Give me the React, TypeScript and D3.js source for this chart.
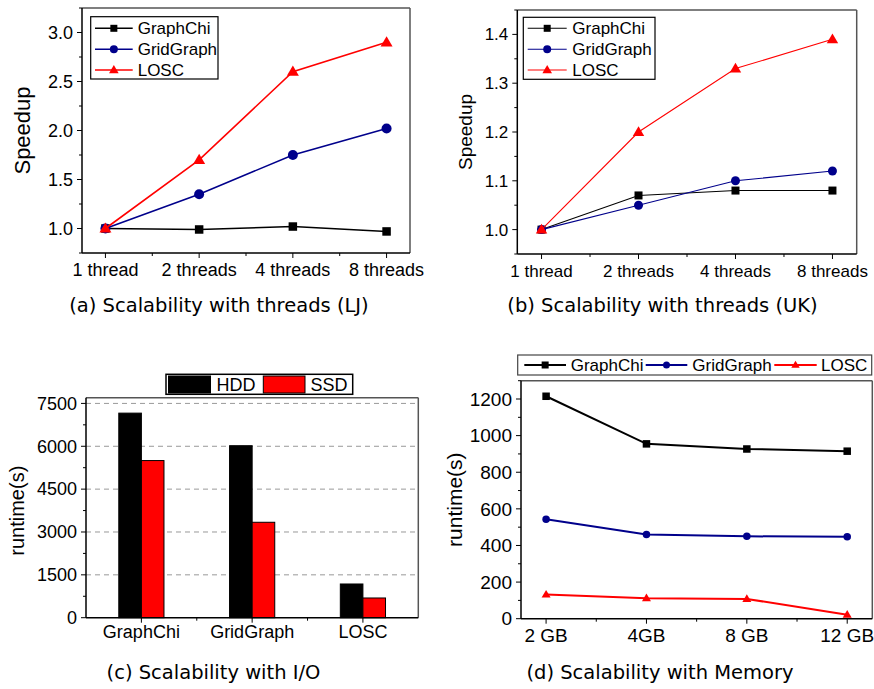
import React from 'react';
import * as d3 from 'd3';

const threadCats = ['1 thread', '2 threads', '4 threads', '8 threads'];
const ljGraphChi = [1.0, 0.99, 1.02, 0.97];
const ljGridGraph = [1.0, 1.35, 1.75, 2.02];
const ljLOSC = [1.0, 1.7, 2.6, 2.9];
const ljTicks = [1.0, 1.5, 2.0, 2.5, 3.0];

const ukGraphChi = [1.0, 1.07, 1.08, 1.08];
const ukGridGraph = [1.0, 1.05, 1.1, 1.12];
const ukLOSC = [1.0, 1.2, 1.33, 1.39];
const ukTicks = [1.0, 1.1, 1.2, 1.3, 1.4];

const ioCats = ['GraphChi', 'GridGraph', 'LOSC'];
const ioHDD = [7160, 6020, 1180];
const ioSSD = [5500, 3340, 690];
const ioTicks = [0, 1500, 3000, 4500, 6000, 7500];

const memCats = ['2 GB', '4GB', '8 GB', '12 GB'];
const memGraphChi = [1215, 955, 927, 915];
const memGridGraph = [543, 460, 450, 448];
const memLOSC = [132, 112, 108, 22];
const memTicks = [0, 200, 400, 600, 800, 1000, 1200];

const seriesNames = ['GraphChi', 'GridGraph', 'LOSC'];
const seriesColors = ['#000000', '#00008b', '#ff0000'];
const seriesShapes = ['square', 'circle', 'triangle'];

const FONT = '"Liberation Sans", Arial, Helvetica, sans-serif';
const CAP = '"DejaVu Sans", sans-serif';

type MarkerProps = { shape: string; x: number; y: number; s: number; color: string };
function Marker({ shape, x, y, s, color }: MarkerProps) {
  if (shape === 'square') {
    return <rect x={x - s / 2} y={y - s / 2} width={s} height={s} fill={color} />;
  }
  if (shape === 'circle') {
    return <circle cx={x} cy={y} r={s / 2} fill={color} />;
  }
  const w = s * 1.2;
  const h = w * 0.85;
  const p = `M${x},${y - h * 0.6}L${x + w / 2},${y + h * 0.4}L${x - w / 2},${y + h * 0.4}Z`;
  return <path d={p} fill={color} />;
}

type LinePanelProps = {
  cats: string[];
  data: number[][];
  xr: [number, number];
  yr: [number, number];
  yDomain: [number, number];
  ticks: number[];
  minorStep: number;
  fmt: (v: number) => string;
  tickFont: number;
  xTickFont: number;
  lineW: number;
  sizes: number[];
  ylabel: string;
  ylabelX: number;
  ylabelFont: number;
};

function LinePanel(p: LinePanelProps) {
  const x = d3.scaleLinear().domain([0.75, p.cats.length + 0.25]).range(p.xr);
  const y = d3.scaleLinear().domain(p.yDomain).range(p.yr);
  const line = d3.line<number>().x((_, i) => x(i + 1)).y((d) => y(d));
  const [xl, xrr] = p.xr;
  const [yb, yt] = p.yr;
  const minors: number[] = [];
  const nMin = Math.round((p.yDomain[1] - p.yDomain[0]) / p.minorStep);
  for (let i = 0; i <= nMin; i++) {
    const v = p.yDomain[0] + i * p.minorStep;
    if (!p.ticks.some((t) => Math.abs(t - v) < 1e-9)) minors.push(v);
  }
  return (
    <g>
      <line x1={xl} y1={yt} x2={xrr} y2={yt} stroke="#555" strokeWidth={1.5} />
      <line x1={xrr} y1={yt} x2={xrr} y2={yb} stroke="#555" strokeWidth={1.5} />
      <line x1={xl} y1={yt} x2={xl} y2={yb} stroke="#000" strokeWidth={1.5} />
      <line x1={xl} y1={yb} x2={xrr} y2={yb} stroke="#000" strokeWidth={1.5} />
      {p.ticks.map((t) => (
        <g key={'t' + t}>
          <line x1={xl - 5} x2={xl} y1={y(t)} y2={y(t)} stroke="#000" strokeWidth={1} />
          <text x={xl - 9} y={y(t)} dy="0.35em" textAnchor="end" fontFamily={FONT} fontSize={p.tickFont}>
            {p.fmt(t)}
          </text>
        </g>
      ))}
      {minors.map((t) => (
        <line key={'m' + t} x1={xl - 3} x2={xl} y1={y(t)} y2={y(t)} stroke="#000" strokeWidth={1} />
      ))}
      {p.cats.map((c, i) => (
        <g key={c}>
          <line x1={x(i + 1)} x2={x(i + 1)} y1={yb} y2={yb + 5} stroke="#000" strokeWidth={1} />
          <text x={x(i + 1)} y={yb + 23} textAnchor="middle" fontFamily={FONT} fontSize={p.xTickFont}>
            {c}
          </text>
        </g>
      ))}
      {p.cats.slice(1).map((c, i) => (
        <line key={'xm' + c} x1={x(i + 1.5)} x2={x(i + 1.5)} y1={yb} y2={yb + 3} stroke="#000" strokeWidth={1} />
      ))}
      <text
        transform={`translate(${p.ylabelX},${(yb + yt) / 2}) rotate(-90)`}
        textAnchor="middle"
        fontFamily={FONT}
        fontSize={p.ylabelFont}
      >
        {p.ylabel}
      </text>
      {p.data.map((d, si) => (
        <g key={'s' + si}>
          <path d={line(d) || ''} fill="none" stroke={seriesColors[si]} strokeWidth={p.lineW} />
          {d.map((v, i) => (
            <Marker key={i} shape={seriesShapes[si]} x={x(i + 1)} y={y(v)} s={p.sizes[si]} color={seriesColors[si]} />
          ))}
        </g>
      ))}
    </g>
  );
}

type VLegendProps = { x: number; y: number; w: number; h: number; rows: number[]; lx0: number; lx1: number; tx: number; sizes: number[]; lineW: number; font: number };
function VLegend(p: VLegendProps) {
  return (
    <g>
      <rect x={p.x} y={p.y} width={p.w} height={p.h} fill="#fff" stroke="#000" strokeWidth={1.2} />
      {seriesNames.map((n, i) => (
        <g key={n}>
          <line x1={p.lx0} x2={p.lx1} y1={p.rows[i]} y2={p.rows[i]} stroke={seriesColors[i]} strokeWidth={p.lineW} />
          <Marker shape={seriesShapes[i]} x={(p.lx0 + p.lx1) / 2} y={p.rows[i]} s={p.sizes[i]} color={seriesColors[i]} />
          <text x={p.tx} y={p.rows[i]} dy="0.36em" fontFamily={FONT} fontSize={p.font}>
            {n}
          </text>
        </g>
      ))}
    </g>
  );
}

function BarPanel() {
  const xl = 86, xrr = 418.3, yb = 617.7, yt = 397.7;
  const x = d3.scaleLinear().domain([0.5, ioCats.length + 0.5]).range([xl, xrr]);
  const y = d3.scaleLinear().domain([0, 7700]).range([yb, yt]);
  const bw = x(0.204) - x(0);
  const minors = d3.range(750, 7700, 1500);
  return (
    <g>
      {ioTicks.filter((t) => t > 0).map((t) => (
        <line key={'g' + t} x1={xl} x2={xrr} y1={y(t)} y2={y(t)} stroke="#999" strokeWidth={1} strokeDasharray="5,4" />
      ))}
      {ioCats.map((c, i) => (
        <g key={c}>
          <rect x={x(i + 1) - bw} y={y(ioHDD[i])} width={bw} height={yb - y(ioHDD[i])} fill="#000" stroke="#000" strokeWidth={1} />
          <rect x={x(i + 1)} y={y(ioSSD[i])} width={bw} height={yb - y(ioSSD[i])} fill="#ff0000" stroke="#000" strokeWidth={1} />
        </g>
      ))}
      <line x1={xl} y1={yt} x2={xrr} y2={yt} stroke="#555" strokeWidth={1.5} />
      <line x1={xrr} y1={yt} x2={xrr} y2={yb} stroke="#555" strokeWidth={1.5} />
      <line x1={xl} y1={yt} x2={xl} y2={yb} stroke="#000" strokeWidth={1.5} />
      <line x1={xl} y1={yb} x2={xrr} y2={yb} stroke="#000" strokeWidth={1.5} />
      {ioTicks.map((t) => (
        <g key={'t' + t}>
          <line x1={xl - 5} x2={xl} y1={y(t)} y2={y(t)} stroke="#000" />
          <text x={xl - 9} y={y(t)} dy="0.35em" textAnchor="end" fontFamily={FONT} fontSize={18}>
            {t}
          </text>
        </g>
      ))}
      {minors.map((t) => (
        <line key={'m' + t} x1={xl - 3} x2={xl} y1={y(t)} y2={y(t)} stroke="#000" />
      ))}
      {ioCats.map((c, i) => (
        <g key={'x' + c}>
          <line x1={x(i + 1)} x2={x(i + 1)} y1={yb} y2={yb + 5} stroke="#000" />
          <text x={x(i + 1)} y={yb + 20} textAnchor="middle" fontFamily={FONT} fontSize={18}>
            {c}
          </text>
        </g>
      ))}
      {[1.5, 2.5].map((v) => (
        <line key={'xm' + v} x1={x(v)} x2={x(v)} y1={yb} y2={yb + 3} stroke="#000" />
      ))}
      <text transform={`translate(${24},${(yb + yt) / 2 + 3}) rotate(-90)`} textAnchor="middle" fontFamily={FONT} fontSize={20}>
        runtime(s)
      </text>
      <g>
        <rect x={166} y={374.3} width={186.7} height={20} fill="#fff" stroke="#000" strokeWidth={1.5} />
        <rect x={168.5} y={376} width={42} height={17} fill="#000" stroke="#000" />
        <text x={216.5} y={384.5} dy="0.36em" fontFamily={FONT} fontSize={18}>HDD</text>
        <rect x={263.3} y={376} width={41.7} height={17} fill="#ff0000" stroke="#000" />
        <text x={310.5} y={384.5} dy="0.36em" fontFamily={FONT} fontSize={18}>SSD</text>
      </g>
    </g>
  );
}

function MemLegend() {
  const rowY = 365;
  const items = [
    { lx0: 524.3, lx1: 566, tx: 570.7 },
    { lx0: 645.7, lx1: 687.3, tx: 692.3 },
    { lx0: 774.3, lx1: 816.7, tx: 821 },
  ];
  const sizes = [7, 7, 7];
  return (
    <g>
      <rect x={517.7} y={355} width={354} height={20} fill="#fff" stroke="#444" strokeWidth={1.2} />
      {items.map((it, i) => (
        <g key={i}>
          <line x1={it.lx0} x2={it.lx1} y1={rowY} y2={rowY} stroke={seriesColors[i]} strokeWidth={2} />
          <Marker shape={seriesShapes[i]} x={(it.lx0 + it.lx1) / 2} y={rowY} s={sizes[i]} color={seriesColors[i]} />
          <text x={it.tx} y={rowY} dy="0.36em" fontFamily={FONT} fontSize={17}>
            {seriesNames[i]}
          </text>
        </g>
      ))}
    </g>
  );
}

export default function App() {
  const f1 = (v: number) => v.toFixed(1);
  const f0 = (v: number) => String(v);
  return (
    <svg width={874} height={689} style={{ position: 'absolute', left: 0, top: 0, background: '#fff' }}>
      <rect width={874} height={689} fill="#fff" />
      <LinePanel
        cats={threadCats}
        data={[ljGraphChi, ljGridGraph, ljLOSC]}
        xr={[82, 410]}
        yr={[253, 8]}
        yDomain={[0.75, 3.25]}
        ticks={ljTicks}
        minorStep={0.25}
        fmt={f1}
        tickFont={18}
        xTickFont={18}
        lineW={1.6}
        sizes={[8.5, 10, 10]}
        ylabel="Speedup"
        ylabelX={30}
        ylabelFont={22}
      />
      <VLegend x={90.7} y={16.7} w={127.3} h={62.3} rows={[28.3, 49.3, 70]} lx0={95} lx1={132.7} tx={137.7} sizes={[7, 8, 8]} lineW={1.6} font={17} />
      <text x={219} y={312} textAnchor="middle" fontFamily={CAP} fontSize={19.5}>(a) Scalability with threads (LJ)</text>

      <LinePanel
        cats={threadCats}
        data={[ukGraphChi, ukGridGraph, ukLOSC]}
        xr={[517.3, 856.7]}
        yr={[254, 10]}
        yDomain={[0.95, 1.45]}
        ticks={ukTicks}
        minorStep={0.05}
        fmt={f1}
        tickFont={17}
        xTickFont={17}
        lineW={1.1}
        sizes={[8, 9, 9.5]}
        ylabel="Speedup"
        ylabelX={472}
        ylabelFont={19}
      />
      <VLegend x={523.3} y={17.3} w={131.7} h={62} rows={[28.3, 49.3, 70]} lx0={527.7} lx1={566.7} tx={572.3} sizes={[7, 8, 8]} lineW={1.1} font={17} />
      <text x={662.5} y={312} textAnchor="middle" fontFamily={CAP} fontSize={19.5}>(b) Scalability with threads (UK)</text>

      <BarPanel />
      <text x={213.5} y={679} textAnchor="middle" fontFamily={CAP} fontSize={19.5}>(c) Scalability with I/O</text>

      <LinePanel
        cats={memCats}
        data={[memGraphChi, memGridGraph, memLOSC]}
        xr={[521, 872.3]}
        yr={[618.7, 380.7]}
        yDomain={[0, 1300]}
        ticks={memTicks}
        minorStep={100}
        fmt={f0}
        tickFont={19}
        xTickFont={19}
        lineW={2}
        sizes={[7.5, 7.5, 7.5]}
        ylabel="runtime(s)"
        ylabelX={462}
        ylabelFont={21}
      />
      <MemLegend />
      <text x={660} y={679} textAnchor="middle" fontFamily={CAP} fontSize={19.5}>(d) Scalability with Memory</text>
    </svg>
  );
}
